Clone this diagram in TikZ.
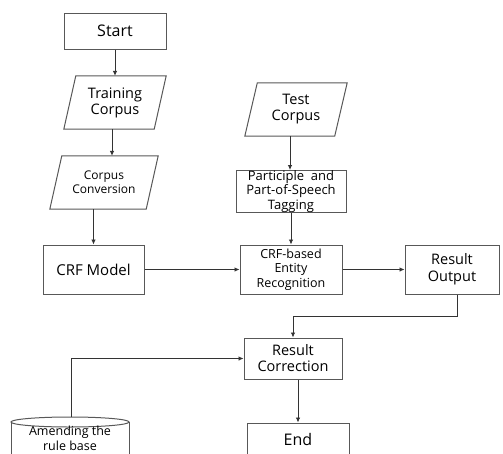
\documentclass[tikz,border=0pt]{standalone}
\usepackage{fontspec}
\setmainfont{Open Sans}
\usetikzlibrary{arrows.meta,calc}
\definecolor{boxc}{HTML}{585858}
\newcommand\fsz[2]{\fontsize{#1pt}{#2pt}\selectfont}
\begin{document}
\begin{tikzpicture}[x=1pt,y=-1pt,
  box/.style={draw=boxc, line width=1pt, inner sep=0pt, align=center, text=black},
  plain/.style={inner sep=0pt, align=center, text=black},
  boxline/.style={draw=boxc, line width=1pt},
  arr/.style={-{Latex[length=5pt,width=4.5pt]}, line width=0.8pt, draw=black!80}]
\fill[white] (0,0) rectangle (503,453);
\useasboundingbox (0,0) rectangle (503,453);
\begin{scope}
\clip (0,0) rectangle (503,453);
% nodes
\node[box, minimum width=102pt, minimum height=36pt, font=\fsz{16}{18}] (start) at (115,31) {Start};
\node[plain, minimum width=90pt, minimum height=53pt, font=\fsz{14.5}{16}] (train) at (115,102.5) {Training\\Corpus};
\node[plain, minimum width=96pt, minimum height=53pt, font=\fsz{12}{14}] (conv) at (104,182.5) {Corpus\\Conversion};
\node[plain, minimum width=89.5pt, minimum height=53pt, font=\fsz{14.5}{16}] (test) at (296,109.5) {Test\\Corpus};
\node[box, minimum width=110pt, minimum height=41pt, font=\fsz{13}{14.5}] (part) at (291,191.5) {Participle\ \ and\\Part-of-Speech\\Tagging};
\node[box, minimum width=101pt, minimum height=49pt, font=\fsz{15}{17}] (crf) at (93.5,269.5) {CRF Model};
\node[box, minimum width=102pt, minimum height=49pt, font=\fsz{12.5}{14.5}] (ent) at (291,269.5) {CRF-based\\Entity\\Recognition};
\node[box, minimum width=94pt, minimum height=49pt, font=\fsz{14.5}{17}] (res) at (452,269.5) {Result\\Output};
\node[box, minimum width=98pt, minimum height=41pt, font=\fsz{14.5}{16}] (corr) at (293,358.5) {Result\\Correction};
\node[box, minimum width=102pt, minimum height=32pt, font=\fsz{16}{18}] (end) at (298,439) {End};
% parallelograms
\draw[boxline] ($(train.north west)+(6,0)$) -- ($(train.north east)+(6,0)$) -- ($(train.south east)+(-6,0)$) -- ($(train.south west)+(-6,0)$) -- cycle;
\draw[boxline] ($(conv.north west)+(6,0)$) -- ($(conv.north east)+(6,0)$) -- ($(conv.south east)+(-6,0)$) -- ($(conv.south west)+(-6,0)$) -- cycle;
\draw[boxline] ($(test.north west)+(6.25,0)$) -- ($(test.north east)+(6.25,0)$) -- ($(test.south east)+(-6.25,0)$) -- ($(test.south west)+(-6.25,0)$) -- cycle;
% cylinder
\draw[boxline] (11,422) -- (11,470) (129,422) -- (129,470);
\draw[boxline] (70,422) ellipse [x radius=59, y radius=5];
\node[plain, font=\fsz{12.5}{14.5}] (amend) at (70,438.5) {Amending the\\rule base};
\coordinate (cyltop) at (71,417);
% connectors
\draw[arr] (start.south) -- (train.north);
\draw[arr] ([xshift=-3pt]train.south) -- ([xshift=-3pt]train.south |- conv.north);
\draw[arr] (crf.north |- conv.south) -- (crf.north);
\draw[arr] (crf.east) -- (ent.west);
\draw[arr] (ent.east) -- (res.west);
\draw[arr] ([xshift=-6pt]test.south) -- ([xshift=-6pt]test.south |- part.north);
\draw[arr] (part.south) -- (ent.north);
\draw[arr] ([xshift=5pt]res.south) -- ++(0,22) -| (corr.north);
\draw[arr] (cyltop) |- (corr.west);
\draw[arr] (end.north |- corr.south) -- (end.north);
\end{scope}
\end{tikzpicture}
\end{document}
